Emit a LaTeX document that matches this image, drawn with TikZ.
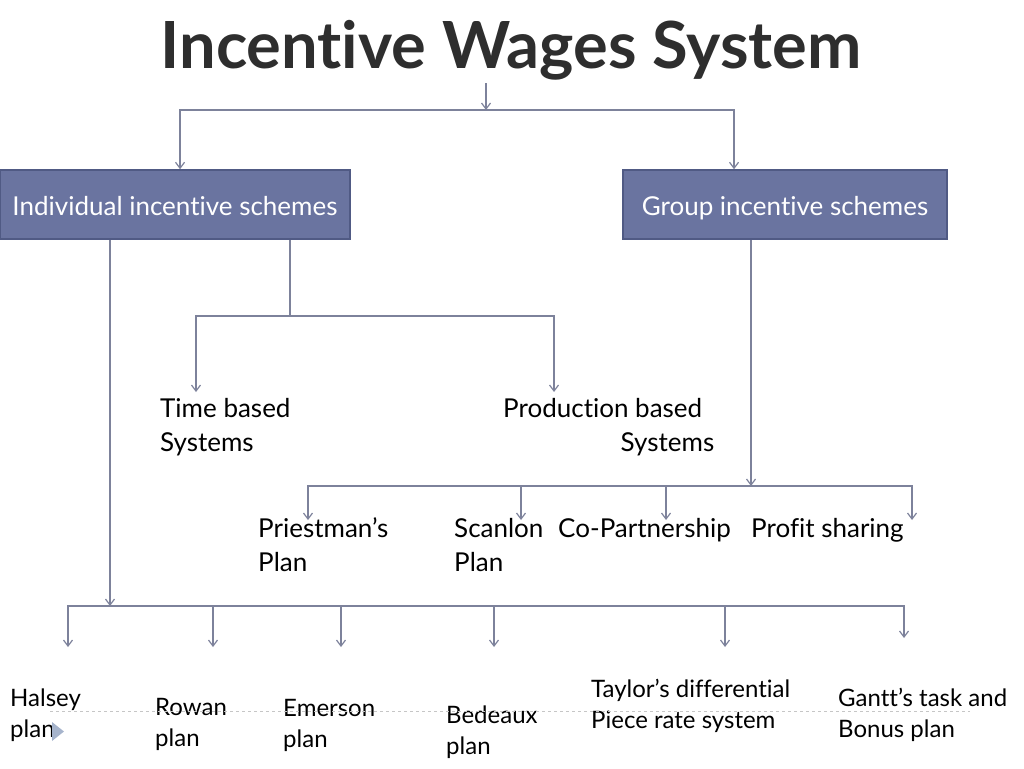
\documentclass[tikz,border=0pt]{standalone}
\usepackage{fontspec}
\setmainfont{Lato}[Ligatures={TeX,NoCommon}]
\usetikzlibrary{arrows.meta}
\definecolor{boxblue}{RGB}{106,116,160}
\definecolor{boxedge}{RGB}{80,90,132}
\definecolor{linkgray}{RGB}{125,130,155}
\definecolor{marker}{RGB}{166,180,204}
\begin{document}
\begin{tikzpicture}[x=1pt,y=-1pt,
    box/.style={draw=boxedge, fill=boxblue, line width=1.5pt, text=white,
                font=\fontsize{26}{30}\selectfont, minimum height=69pt,
                text height=21pt, text depth=0pt},
    link/.style={draw=linkgray, line width=1.2pt, -{Straight Barb[length=6pt,width=9pt]}},
    item/.style={anchor=base west, inner sep=0pt, align=left,
                 font=\fontsize{26}{34}\selectfont},
    plan/.style={item, font=\fontsize{24}{31}\selectfont}]
    \useasboundingbox (0,0) rectangle (1024,768);
    \node[font=\fontsize{65}{70}\selectfont\bfseries, text=black!82, anchor=base] (title) at (511,68) {Incentive Wages System};
    \node[box, minimum width=350pt] (ind) at (175,204.5) {Individual incentive schemes};
    \node[box, minimum width=324pt] (grp) at (785,204.5) {Group incentive schemes};
    % two-line texts sit on the baseline of their last line
    \node[item] (tb) at (160,451) {Time based\\ Systems};
    \node[item, align=right] (pb) at (503,451) {Production based\hspace*{12pt}\\ Systems};
    \node[item] (pr) at (258,571) {Priestman's\\ Plan};
    \node[item] (sc) at (454,571) {Scanlon\\ Plan};
    \node[item] (cp) at (558,537) {Co-Partnership};
    \node[item] (ps) at (751,537) {Profit sharing};
    \node[plan] (ha) at (10,737) {Halsey\\ plan};
    \node[plan] (ro) at (155,746) {Rowan\\ plan};
    \node[plan] (em) at (283,747) {Emerson\\ plan};
    \node[plan] (be) at (446,754) {Bedeaux\\ plan};
    \node[plan] (ta) at (591,728) {Taylor's differential\\ Piece rate system};
    \node[plan] (ga) at (838,737) {Gantt's task and\\ Bonus plan};
    % junctions and arrow ends
    \coordinate (split) at (486,110);
    \coordinate (tsplit) at (290,316);
    \coordinate (gbus) at (751,486);
    \coordinate (ibus) at (110,606);
    \coordinate (tbt) at (196,392);
    \coordinate (pbt) at (554,392);
    \foreach \x/\n in {308/pr,521/sc,666/cp,912/ps}
      \coordinate (\n t) at (\x,520);
    \foreach \x/\n in {68/ha,213/ro,341/em,494/be,725/ta}
      \coordinate (\n t) at (\x,647);
    \coordinate (gat) at (904,638);
    % connectors
    \draw[link] (title.south -| split) -- (split);
    \draw[link] (split) -| ([xshift=5pt]ind.north);
    \draw[link] (split) -| ([xshift=-51pt]grp.north);
    \draw[link] (ind.south -| ibus) -- (ibus);
    \draw[draw=linkgray, line width=1.2pt] (ind.south -| tsplit) -- (tsplit);
    \draw[link] (tsplit) -| (tbt);
    \draw[link] (tsplit) -| (pbt);
    \draw[link] (grp.south -| gbus) -- (gbus);
    \foreach \n in {pr,sc,cp,ps}
      \draw[link] (gbus) -| (\n t);
    \foreach \n in {ha,ro,em,be,ta,ga}
      \draw[link] (ibus) -| (\n t);
    % dashed guide and marker
    \draw[gray!45, dashed, line width=0.8pt] (50,711) -- (970,711);
    \fill[marker] (52,722) -- (64,731.5) -- (52,741) -- cycle;
\end{tikzpicture}
\end{document}
